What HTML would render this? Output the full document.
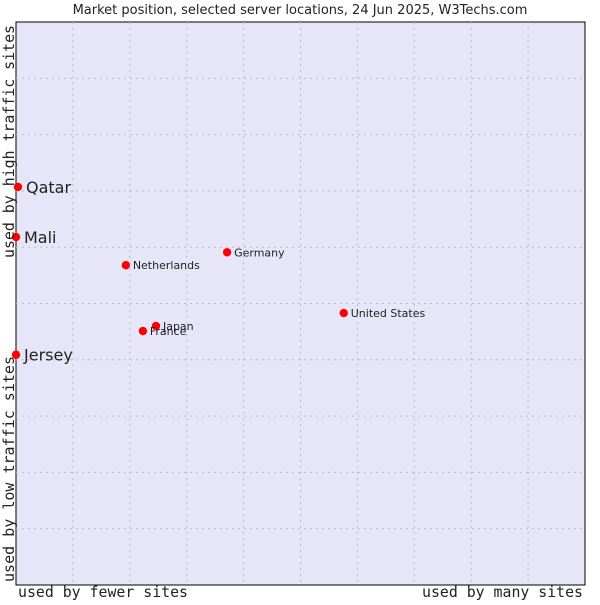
<!DOCTYPE html>
<html><head><meta charset="utf-8"><style>
body{margin:0;background:#fff}
svg text{font-family:"DejaVu Sans","Liberation Sans",sans-serif;fill:#222}
.mono{font-family:"DejaVu Sans Mono","Liberation Mono",monospace!important;font-size:15px}
</style></head><body>
<svg id="chart" width="600" height="600" viewBox="0 0 600 600" xmlns="http://www.w3.org/2000/svg">
<text x="300" y="14" text-anchor="middle" font-size="13">Market position, selected server locations, 24 Jun 2025, W3Techs.com</text>
<rect x="16" y="22" width="569" height="563" fill="#e6e6f8" stroke="#000" stroke-width="1"/>
<g id="grid"></g>
<g id="points"></g>
<text class="mono" x="18" y="597" textLength="170" lengthAdjust="spacingAndGlyphs">used by fewer sites</text>
<text class="mono" x="422" y="597" textLength="161" lengthAdjust="spacingAndGlyphs">used by many sites</text>
<text class="mono" transform="translate(14,582) rotate(-90)" textLength="226" lengthAdjust="spacingAndGlyphs">used by low traffic sites</text>
<text class="mono" transform="translate(14,258) rotate(-90)" textLength="233" lengthAdjust="spacingAndGlyphs">used by high traffic sites</text>
</svg>
<script>
const names=["Qatar","Mali","Jersey","Netherlands","Germany","United States","Japan","France"];
const xVals=[0.35,0,0,19.3,37.1,57.6,24.6,22.3];
const yVals=[70.7,61.8,40.9,56.8,59.1,48.3,46.0,45.1];
const big=[true,true,true,false,false,false,false,false];
const ns="http://www.w3.org/2000/svg";
const L=16,R=585,T=22,B=585;
const sx=v=>L+v/100*(R-L), sy=v=>B-v/100*(B-T);
const grid=document.getElementById('grid');
for(let i=1;i<10;i++){
 const v=document.createElementNS(ns,'line');
 
 
 v.setAttribute('x1',sx(i*10));v.setAttribute('x2',sx(i*10));v.setAttribute('y1',T);v.setAttribute('y2',B);
 v.setAttribute('stroke','#bcbcbc');v.setAttribute('stroke-dasharray','2,4');grid.appendChild(v);
 const h=document.createElementNS(ns,'line');
 
 
 h.setAttribute('y1',sy(i*10));h.setAttribute('y2',sy(i*10));h.setAttribute('x1',L);h.setAttribute('x2',R);
 h.setAttribute('stroke','#bcbcbc');h.setAttribute('stroke-dasharray','2,4');grid.appendChild(h);
}
const pts=document.getElementById('points');
names.forEach((n,i)=>{
 const x=sx(xVals[i]),y=sy(yVals[i]);
 const c=document.createElementNS(ns,'circle');
 
 
 c.setAttribute('cx',x);c.setAttribute('cy',y);c.setAttribute('r',4.2);c.setAttribute('fill','#ff0000');
 pts.appendChild(c);
 const t=document.createElementNS(ns,'text');
 
 
 t.setAttribute('x',x+(big[i]?8:7));t.setAttribute('y',y+(big[i]?6:4));
 t.setAttribute('font-size',big[i]?16:11);t.textContent=n;pts.appendChild(t);
});
</script>
</body></html>
